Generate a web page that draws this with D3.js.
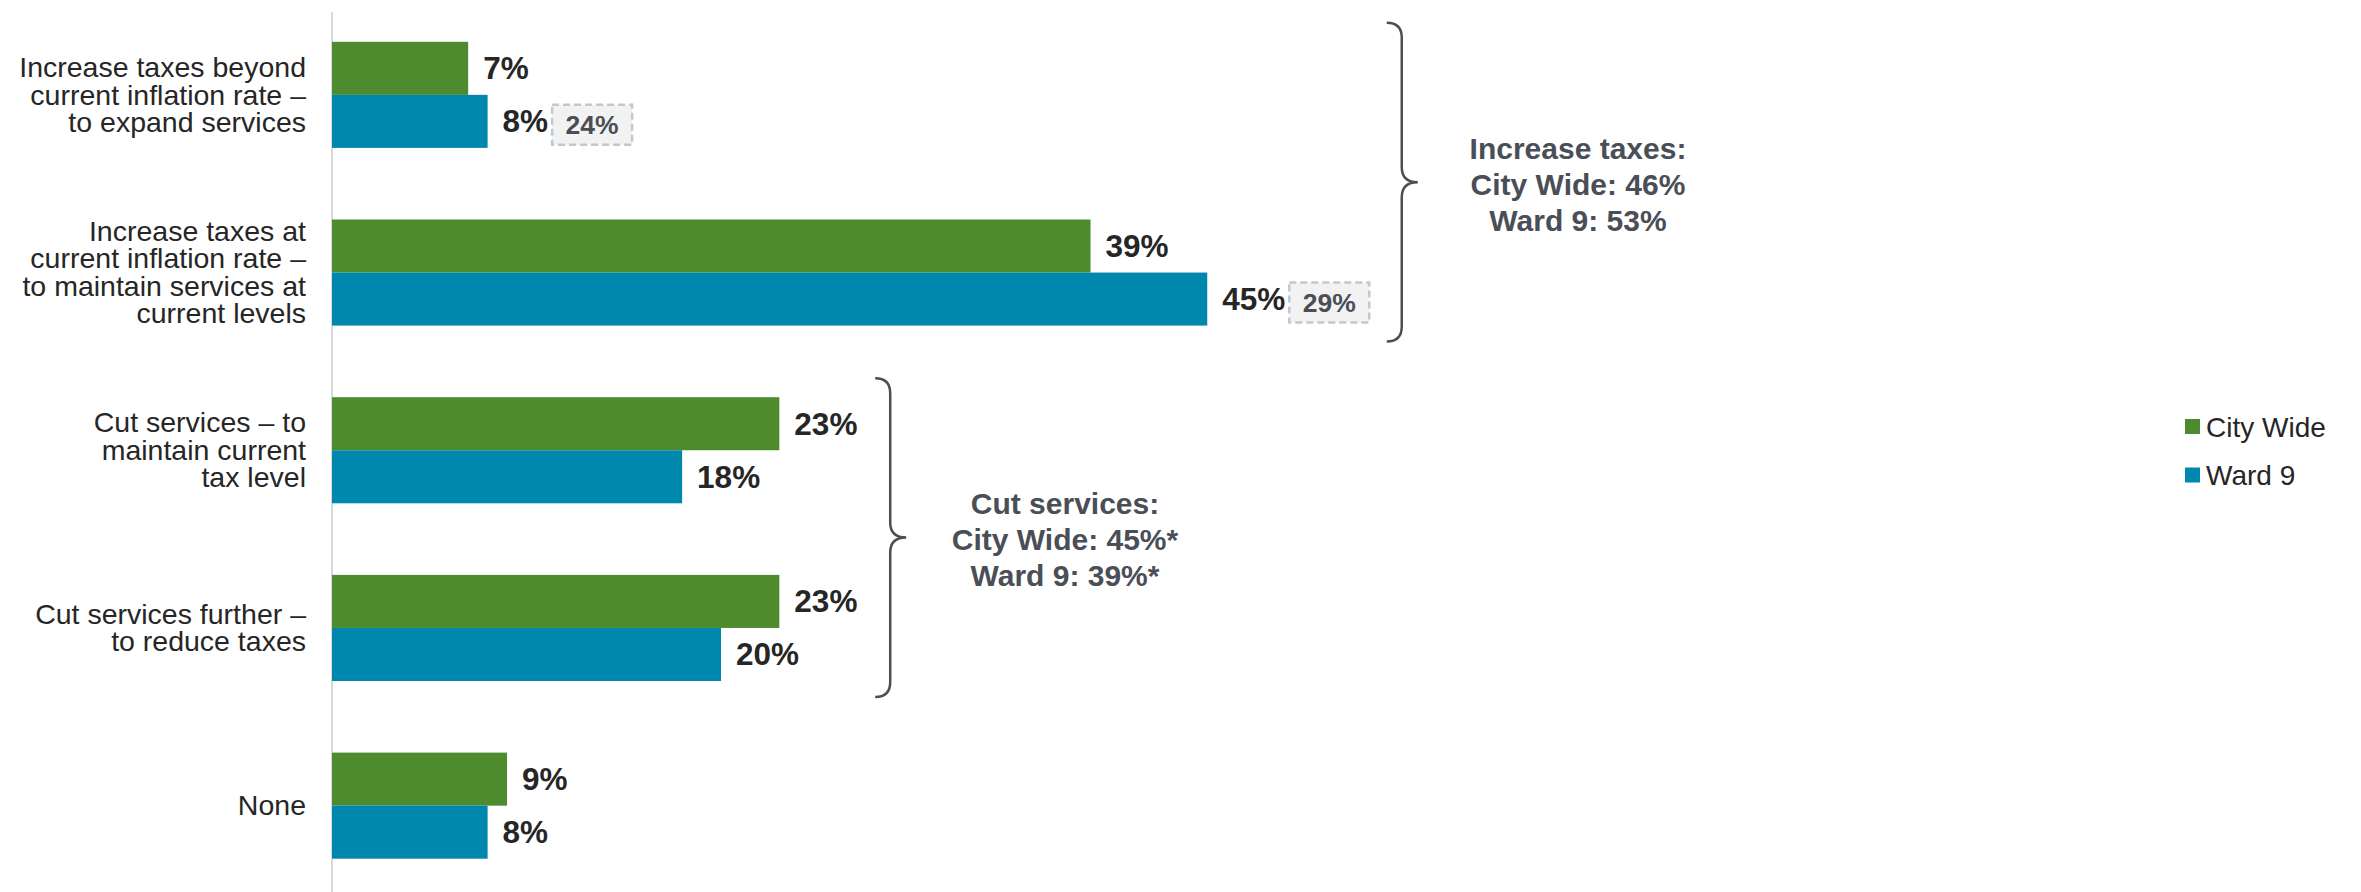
<!DOCTYPE html>
<html>
<head>
<meta charset="utf-8">
<script src="https://cdn.jsdelivr.net/npm/d3@7"></script>
<style>
  body { margin: 0; background: #fff; }
  svg { display: block; font-family: "Liberation Sans", Arial, sans-serif; }
</style>
</head>
<body>
<svg id="chart" width="2361" height="892"></svg>
<script>
// Data

var categories = [
  ["Increase taxes beyond", "current inflation rate –", "to expand services"],
  ["Increase taxes at", "current inflation rate –", "to maintain services at", "current levels"],
  ["Cut services – to", "maintain current", "tax level"],
  ["Cut services further –", "to reduce taxes"],
  ["None"]
];
var series = ["City Wide", "Ward 9"];
var cityWide = [7, 39, 23, 23, 9];
var ward9 = [8, 45, 18, 20, 8];
// boxed figures shown next to the Ward 9 bars
var ward9Boxed = [24, 29, null, null, null];

var groupTitles = ["Increase taxes:", "Cut services:"];
var groupLines = [
  ["City Wide: 46%", "Ward 9: 53%"],
  ["City Wide: 45%*", "Ward 9: 39%*"]
];
var groupSpans = [[0, 1], [2, 3]];

var colors = ["#4d8b2e", "#0087ad"];
var textDark = "#262626";
var textGray = "#4a4e56";

var svg = d3.select("#chart");

var x = d3.scaleLinear().domain([0, 100]).range([332, 2277]);

var y = d3.scaleBand()
  .domain(d3.range(categories.length))
  .range([6, 894.5])
  .paddingInner(0.403)
  .paddingOuter(0.2015);

var ySub = d3.scaleBand()
  .domain(series)
  .range([0, y.bandwidth()]);

var values = [cityWide, ward9];

// axis line
svg.append("line")
  .attr("x1", x(0)).attr("x2", x(0))
  .attr("y1", 12).attr("y2", 892)
  .attr("stroke", "#d9d9d9")
  .attr("stroke-width", 2);

// bars
var groups = svg.selectAll("g.cat")
  .data(categories)
  .enter()
  .append("g")
  .attr("class", "cat")
  .attr("transform", function(d, i) { return "translate(0," + y(i) + ")"; });

series.forEach(function(s, si) {
  groups.append("rect")
    .attr("x", x(0))
    .attr("y", ySub(s))
    .attr("width", function(d, i) { return x(values[si][i]) - x(0); })
    .attr("height", ySub.bandwidth())
    .attr("fill", colors[si]);

  groups.append("text")
    .attr("class", "val" + si)
    .attr("x", function(d, i) { return x(values[si][i]) + 15; })
    .attr("y", ySub(s) + ySub.bandwidth() / 2)
    .attr("dy", "0.35em")
    .attr("font-size", 31.5)
    .attr("font-weight", "bold")
    .attr("fill", textDark)
    .text(function(d, i) { return values[si][i] + "%"; });
});

// dashed boxes beside the Ward 9 labels
groups.each(function(d, i) {
  if (ward9Boxed[i] == null) return;
  var g = d3.select(this);
  var lab = g.select("text.val1");
  var lx = +lab.attr("x") + lab.node().getComputedTextLength() + 4;
  var cy = ySub("Ward 9") + ySub.bandwidth() / 2 + 3.5;
  g.append("rect")
    .attr("x", lx).attr("y", cy - 20)
    .attr("width", 80).attr("height", 40)
    .attr("fill", "#f2f2f2")
    .attr("stroke", "#c3c8ce")
    .attr("stroke-width", 2.5)
    .attr("stroke-dasharray", "7,4");
  g.append("text")
    .attr("x", lx + 40).attr("y", cy)
    .attr("dy", "0.36em")
    .attr("text-anchor", "middle")
    .attr("font-size", 26.5)
    .attr("font-weight", "bold")
    .attr("fill", textGray)
    .text(ward9Boxed[i] + "%");
});

// category labels
var lineH = 27.5;
groups.append("text")
  .attr("text-anchor", "end")
  .attr("font-size", 28.5)
  .attr("fill", textDark)
  .each(function(d) {
    var t = d3.select(this);
    var top = y.bandwidth() / 2 - (d.length - 1) * lineH / 2;
    d.forEach(function(line, k) {
      t.append("tspan")
        .attr("x", 306)
        .attr("y", top + k * lineH)
        .attr("dy", "0.34em")
        .text(line);
    });
  });

// braces with group totals
var braceX = [x(55), x(28.7)];
var noteX = [1578, 1065];

function bracePath(xl, top, bottom) {
  var r = 15, tip = 16, mid = (top + bottom) / 2;
  var x0 = xl - r;
  return "M" + x0 + "," + top +
    " Q" + xl + "," + top + " " + xl + "," + (top + r) +
    " L" + xl + "," + (mid - r) +
    " Q" + xl + "," + mid + " " + (xl + tip) + "," + mid +
    " Q" + xl + "," + mid + " " + xl + "," + (mid + r) +
    " L" + xl + "," + (bottom - r) +
    " Q" + xl + "," + bottom + " " + x0 + "," + bottom;
}

groupSpans.forEach(function(span, gi) {
  var top = y(span[0]) - 19;
  var bottom = y(span[1]) + y.bandwidth() + 16;
  var mid = (top + bottom) / 2;
  svg.append("path")
    .attr("d", bracePath(braceX[gi], top, bottom))
    .attr("fill", "none")
    .attr("stroke", textGray)
    .attr("stroke-width", 2.5);

  var lines = [groupTitles[gi]].concat(groupLines[gi]);
  var note = svg.append("text")
    .attr("text-anchor", "middle")
    .attr("font-size", 30)
    .attr("font-weight", "bold")
    .attr("fill", textGray);
  lines.forEach(function(line, k) {
    note.append("tspan")
      .attr("x", noteX[gi])
      .attr("y", mid + 12.5 + (k - 1) * 36)
      .text(line);
  });
});

// legend
var legend = svg.selectAll("g.legend")
  .data(series)
  .enter()
  .append("g")
  .attr("class", "legend")
  .attr("transform", function(d, i) { return "translate(2185," + (419 + i * 48.5) + ")"; });

legend.append("rect")
  .attr("width", 15).attr("height", 15)
  .attr("fill", function(d, i) { return colors[i]; });

legend.append("text")
  .attr("x", 21).attr("y", 7.5)
  .attr("dy", "0.36em")
  .attr("font-size", 28)
  .attr("fill", textDark)
  .text(function(d) { return d; });
</script>
</body>
</html>
